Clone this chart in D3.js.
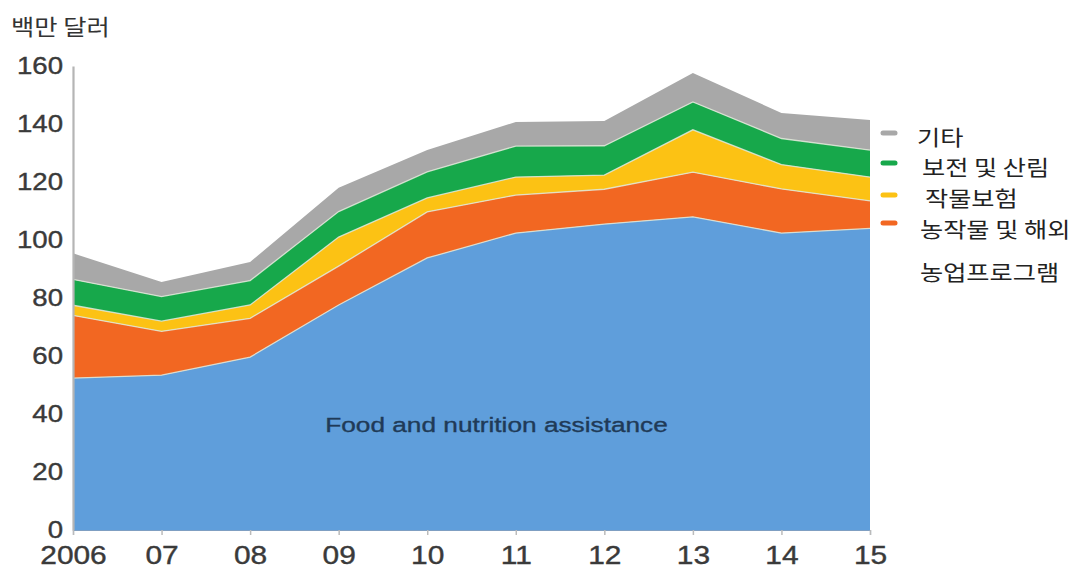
<!DOCTYPE html>
<html>
<head>
<meta charset="utf-8">
<script src="https://cdn.jsdelivr.net/npm/d3@7/dist/d3.min.js"></script>
<style>
  html, body { margin: 0; padding: 0; background: #fff; }
  svg { display: block; }
</style>
</head>
<body>
<svg id="chart" width="1082" height="569"></svg>
<script>
// Fiscal years on the x axis
const years = ["2006", "07", "08", "09", "10", "11", "12", "13", "14", "15"];

// Spending by program, in millions of dollars (stacked bottom to top)
const foodNutrition = [52.4, 53.4, 59.6, 77.6, 93.8, 102.4, 105.5, 108.0, 102.4, 104.0];
const farmForeign   = [21.6, 15.1, 13.4, 13.4, 15.9, 13.1, 12.0, 15.4, 15.2, 9.5];
const cropInsurance = [3.5, 3.5, 4.6, 10.0, 4.8, 6.2, 4.9, 14.6, 8.4, 8.2];
const conservation  = [8.9, 8.5, 8.4, 8.8, 9.0, 10.7, 10.1, 9.6, 9.0, 9.3];
const other         = [9.0, 5.0, 6.4, 8.2, 7.5, 8.3, 8.5, 10.0, 8.8, 10.4];

const yTicks = [0, 20, 40, 60, 80, 100, 120, 140, 160];

const seriesKeys = ["food", "farm", "crop", "cons", "other"];
const seriesColors = {
  food: "#5f9edb",
  farm: "#f26722",
  crop: "#fcc214",
  cons: "#17a84b",
  other: "#a8a8a8"
};

// Legend entries, top to bottom
const legendItems = [
  { key: "other", lines: ["기타"] },
  { key: "cons",  lines: ["보전 및 산림"] },
  { key: "crop",  lines: ["작물보험"] },
  { key: "farm",  lines: ["농작물 및 해외", "농업프로그램"] }
];

const table = years.map((yr, i) => ({
  year: yr,
  food: foodNutrition[i],
  farm: farmForeign[i],
  crop: cropInsurance[i],
  cons: conservation[i],
  other: other[i]
}));

const svg = d3.select("#chart");
const plotLeft = 73, plotRight = 870, plotTop = 66, plotBottom = 530;
const stretch = 1.15; // type is set slightly wide

const x = d3.scalePoint().domain(years).range([plotLeft, plotRight]);
const y = d3.scaleLinear().domain([0, 160]).range([plotBottom, plotTop]);

const stacked = d3.stack().keys(seriesKeys)(table);

const area = d3.area()
  .x(d => x(d.data.year))
  .y0(d => y(d[0]))
  .y1(d => y(d[1]));

const topLine = d3.line()
  .x(d => x(d.data.year))
  .y(d => y(d[1]));

// Stacked areas
svg.append("g").selectAll("path")
  .data(stacked)
  .join("path")
  .attr("d", area)
  .attr("fill", d => seriesColors[d.key]);

// Thin light seams between layers
svg.append("g").selectAll("path")
  .data(stacked.slice(0, stacked.length - 1))
  .join("path")
  .attr("d", topLine)
  .attr("fill", "none")
  .attr("stroke", "#dfe8d8")
  .attr("stroke-width", 1.3)
  .attr("opacity", 0.85);

// Y axis
const yAxis = svg.append("g")
  .attr("transform", `translate(${plotLeft},0)`)
  .call(d3.axisLeft(y).tickValues(yTicks).tickSize(0).tickPadding(10));
yAxis.select(".domain").attr("stroke", "#b5b5b5").attr("stroke-width", 2.2);
yAxis.selectAll("text")
  .attr("font-family", "'Liberation Sans', Arial, sans-serif")
  .attr("font-size", 24)
  .attr("fill", "#3a3a3a")
  .attr("stroke", "#3a3a3a")
  .attr("stroke-width", 0.4)
  .attr("x", -10 / stretch)
  .attr("transform", `scale(${stretch},1)`);

// X axis
const xAxis = svg.append("g")
  .attr("transform", `translate(0,${plotBottom})`)
  .call(d3.axisBottom(x).tickSize(5).tickPadding(11));
xAxis.select(".domain").attr("stroke", "#7f9fc2").attr("stroke-width", 1.2);
xAxis.selectAll(".tick line").attr("stroke", "#bbb").attr("stroke-width", 1.5);
xAxis.selectAll(".tick text")
  .attr("font-family", "'Liberation Sans', Arial, sans-serif")
  .attr("font-size", 26)
  .attr("fill", "#3a3a3a")
  .attr("stroke", "#3a3a3a")
  .attr("stroke-width", 0.4)
  .attr("transform", `scale(${stretch},1)`);

// Unit caption
svg.append("text")
  .attr("transform", `translate(11,35) scale(${stretch},1)`)
  .attr("font-family", "'Noto Sans CJK KR', sans-serif")
  .attr("font-size", 22)
  .attr("fill", "#333")
  .text("백만 달러");

// In-area label for the largest series
svg.append("text")
  .attr("transform", `translate(${(x("10") + x("11")) / 2 + 25},432) scale(1.28,1)`)
  .attr("text-anchor", "middle")
  .attr("font-family", "'Liberation Sans', Arial, sans-serif")
  .attr("font-size", 20.5)
  .attr("fill", "#203a57")
  .attr("stroke", "#203a57")
  .attr("stroke-width", 0.35)
  .text("Food and nutrition assistance");

// Legend
const legendMarkY = [133, 163, 195, 223];
const legendTextY = [[145], [175], [206], [237, 280]];
const legendTextX = [917, 922, 925, 920];
const legend = svg.append("g");
legendItems.forEach((item, i) => {
  legend.append("line")
    .attr("x1", 883).attr("x2", 895)
    .attr("y1", legendMarkY[i]).attr("y2", legendMarkY[i])
    .attr("stroke", seriesColors[item.key])
    .attr("stroke-width", 5)
    .attr("stroke-linecap", "round");
  item.lines.forEach((ln, j) => {
    legend.append("text")
      .attr("transform", `translate(${legendTextX[i]},${legendTextY[i][j]}) scale(1.2,1)`)
      .attr("font-family", "'Noto Sans CJK KR', sans-serif")
      .attr("font-size", 21)
      .attr("fill", "#222")
      .text(ln);
  });
});
</script>
</body>
</html>
